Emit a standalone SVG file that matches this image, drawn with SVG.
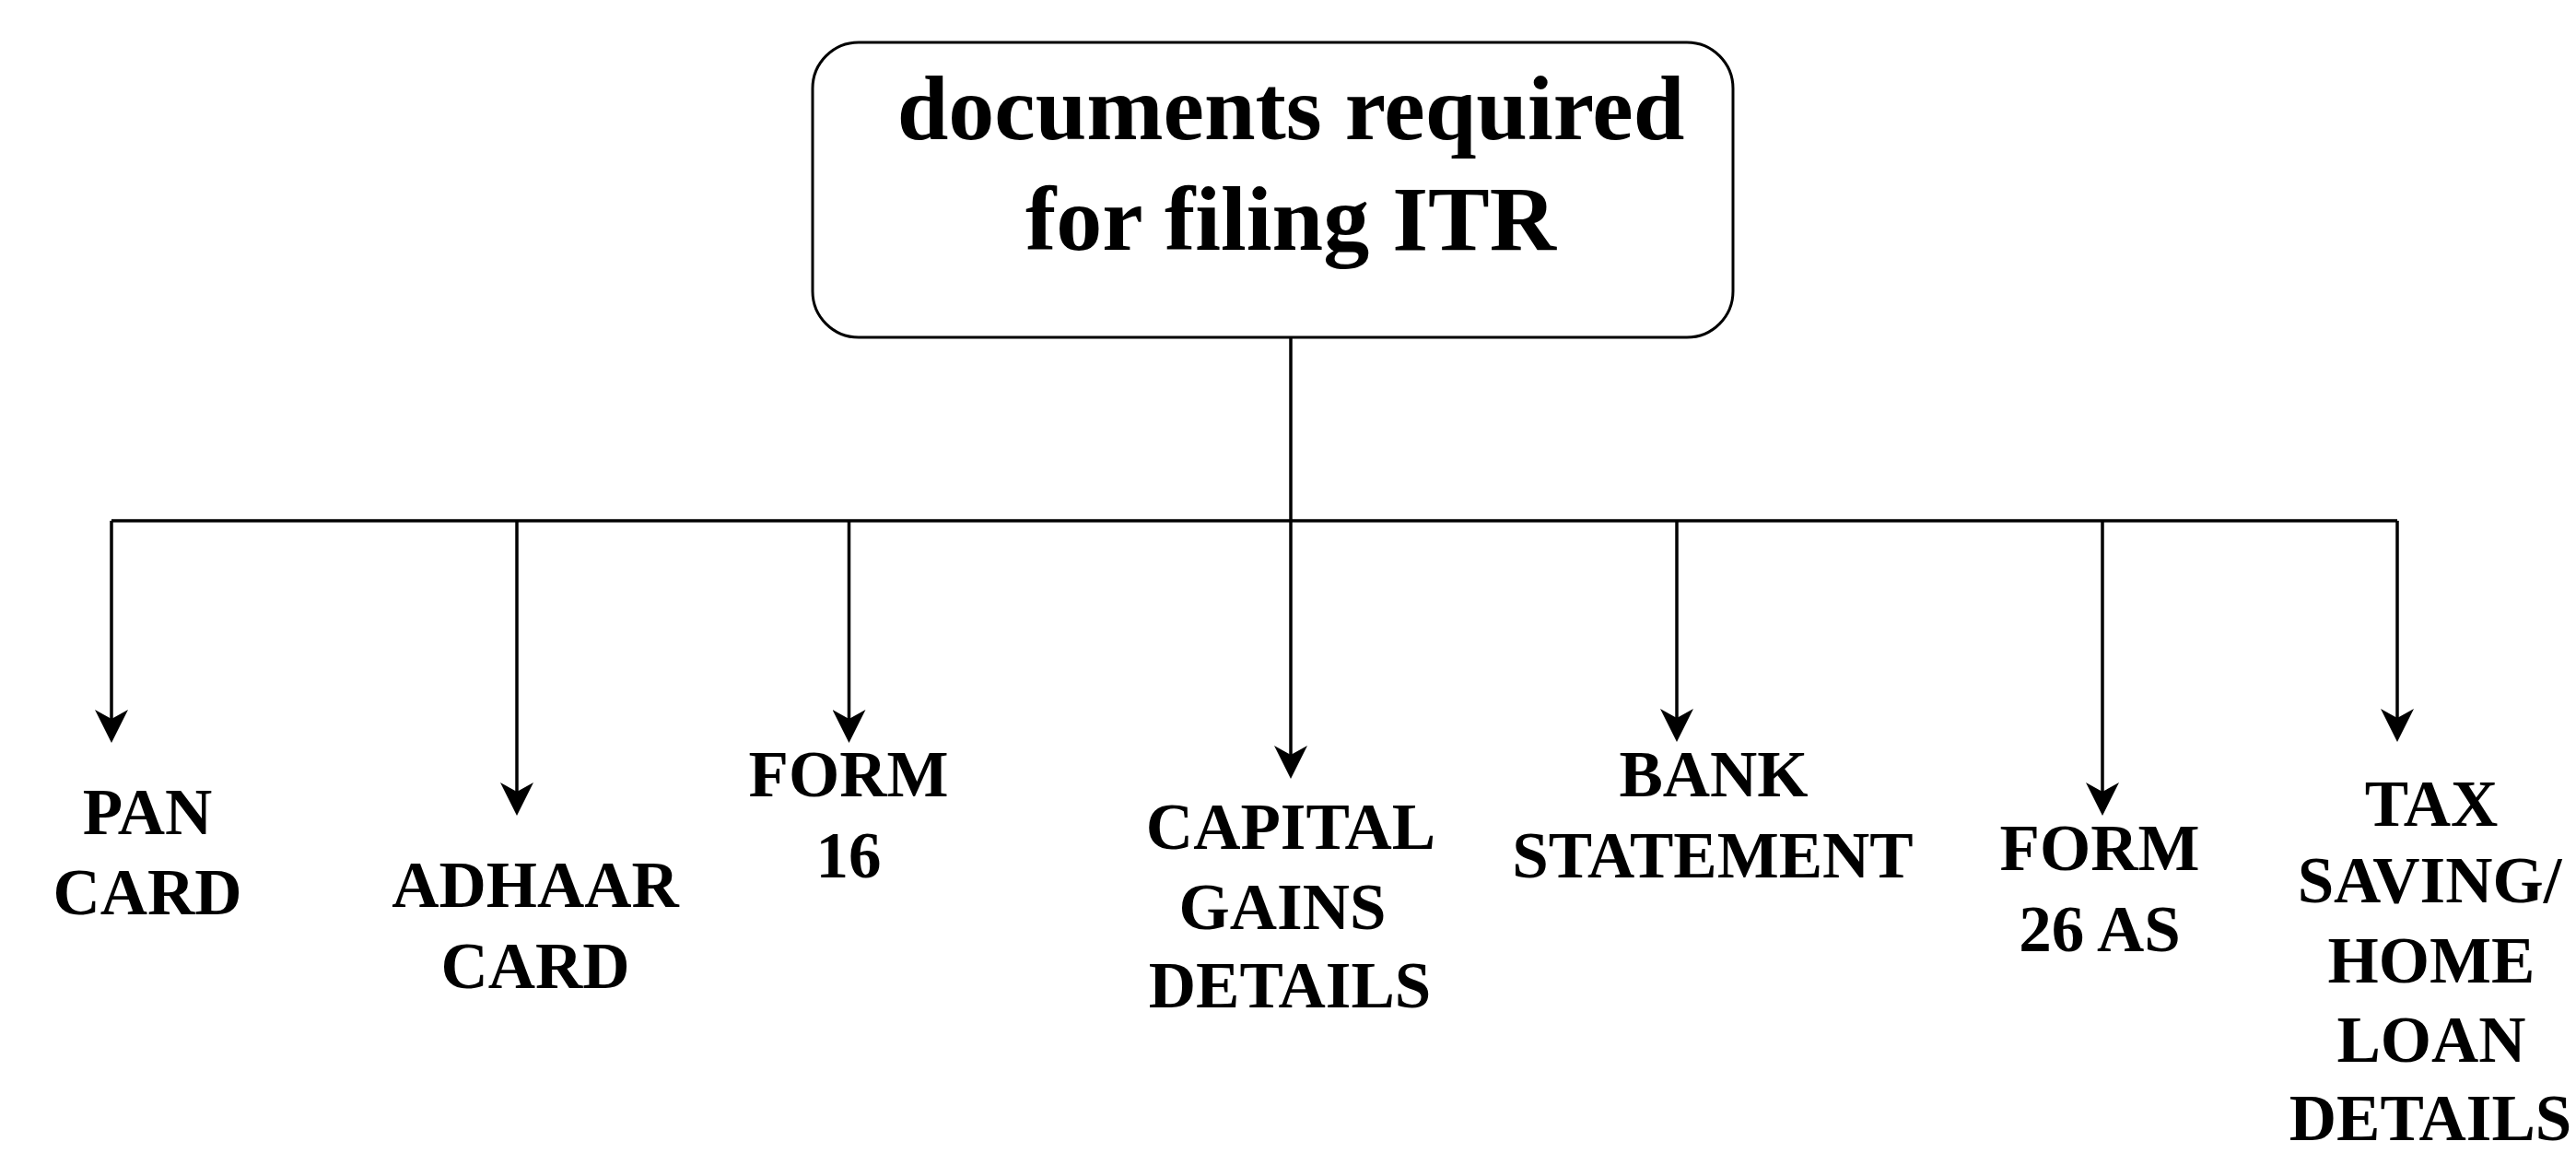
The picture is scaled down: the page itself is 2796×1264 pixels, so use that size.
<svg xmlns="http://www.w3.org/2000/svg" width="2796" height="1264" viewBox="0 0 2796 1264">
<style>
.box{fill:#ffffff;stroke:#000000;stroke-width:3}
.conn{fill:none;stroke:#000000;stroke-width:3.5}
.t{font-family:"Liberation Serif","Times New Roman",serif;font-weight:bold;fill:#000000;text-anchor:middle}
.root{font-size:100px}
.lbl{font-size:71px}
</style>
<defs>
<marker id="arr" markerUnits="userSpaceOnUse" viewBox="0 -18 36 36" markerWidth="36" markerHeight="36" refX="10" refY="0" orient="auto">
<path d="M0,-18 L36,0 L0,18 L10,0 Z" fill="#000000"/>
</marker>
</defs>
<rect width="2796" height="1264" fill="#ffffff"/>
<g id="connectors">
<path class="conn" d="M121,565 H2602"/>
<path class="conn" d="M1401,366 V819" marker-end="url(#arr)"/>
<path class="conn" d="M121,565 V780" marker-end="url(#arr)"/>
<path class="conn" d="M561,565 V859" marker-end="url(#arr)"/>
<path class="conn" d="M921.5,565 V780" marker-end="url(#arr)"/>
<path class="conn" d="M1820,565 V779" marker-end="url(#arr)"/>
<path class="conn" d="M2282,565 V859" marker-end="url(#arr)"/>
<path class="conn" d="M2602,565 V779" marker-end="url(#arr)"/>
</g>
<g id="root">
<rect class="box" x="882" y="46" width="999" height="320" rx="50" ry="50"/>
<text class="t root"><tspan x="1401" y="151">documents required</tspan><tspan x="1401" y="271">for filing ITR</tspan></text>
</g>
<g id="pan">
<text class="t lbl"><tspan x="160" y="905">PAN</tspan><tspan x="160" y="992">CARD</tspan></text>
</g>
<g id="adhaar">
<text class="t lbl"><tspan x="581" y="984">ADHAAR</tspan><tspan x="581" y="1072">CARD</tspan></text>
</g>
<g id="form16">
<text class="t lbl"><tspan x="921" y="864">FORM</tspan><tspan x="921" y="952">16</tspan></text>
</g>
<g id="capital">
<text class="t lbl"><tspan x="1401" y="921">CAPITAL</tspan><tspan x="1392" y="1008">GAINS</tspan><tspan x="1400" y="1093">DETAILS</tspan></text>
</g>
<g id="bank">
<text class="t lbl"><tspan x="1860" y="864">BANK</tspan><tspan x="1859" y="952">STATEMENT</tspan></text>
</g>
<g id="form26">
<text class="t lbl"><tspan x="2279" y="944">FORM</tspan><tspan x="2279" y="1032">26 AS</tspan></text>
</g>
<g id="tax">
<text class="t lbl"><tspan x="2639" y="896">TAX</tspan><tspan x="2637" y="979">SAVING/</tspan><tspan x="2639" y="1066">HOME</tspan><tspan x="2639" y="1152">LOAN</tspan><tspan x="2638" y="1237">DETAILS</tspan></text>
</g>
</svg>
